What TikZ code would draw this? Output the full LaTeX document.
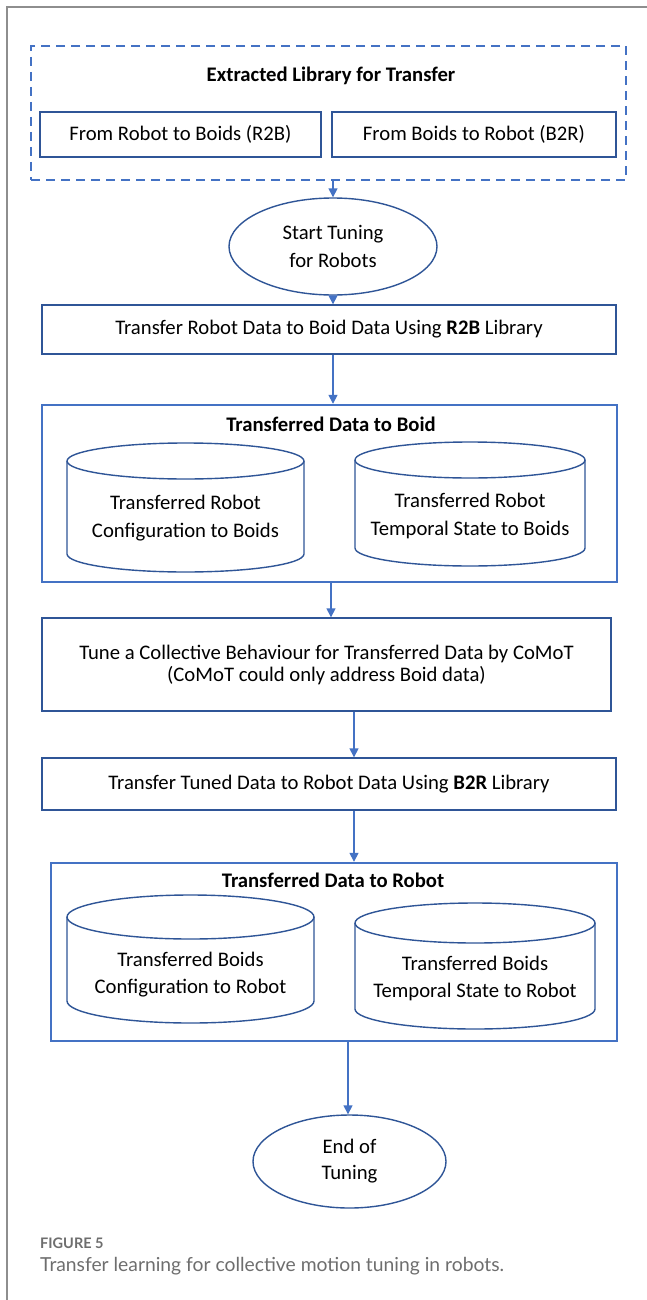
\documentclass[tikz,border=0pt]{standalone}
\usepackage{fontspec}
\setmainfont{Carlito}
\newfontfamily\capfont{Lato}
\usetikzlibrary{arrows.meta,shapes.geometric}
\definecolor{dblue}{HTML}{2F5597}
\definecolor{mblue}{HTML}{4472C4}
\definecolor{framegray}{HTML}{8E8E8E}
\definecolor{capgray}{HTML}{6E6E6E}
\newcommand\drawcyl[5]{%
  \draw[cylline] ({(#1+#2)/2},{#3+#5}) ellipse [x radius={(#2-#1)/2}, y radius=#5];
  \draw[cylline] (#1,{#3+#5}) -- (#1,{#4-#5})
     arc[start angle=180,end angle=0,x radius={(#2-#1)/2},y radius=#5] -- (#2,{#3+#5});}
\begin{document}
\begin{tikzpicture}[x=1pt,y=-1pt,
  txt/.style={font=\fontsize{20.7}{24}\selectfont,align=center,inner sep=0pt},
  thinbox/.style={draw=dblue,line width=1.4pt,txt},
  bigbox/.style={draw=mblue,line width=2.4pt},
  libbox/.style={draw=mblue,line width=1.5pt,dash pattern=on 9pt off 6pt},
  oval/.style={ellipse,draw=dblue,line width=1.4pt,txt},
  cylline/.style={draw=dblue,line width=1.4pt},
  boldtitle/.style={font=\fontsize{20.7}{24}\selectfont\bfseries,inner sep=0pt},
  arr/.style={draw=mblue,line width=1.5pt,-{Triangle[width=9pt,length=9pt]}}]
\useasboundingbox[fill=white] (0,0) rectangle (647,1300);
% page frame
\draw[framegray,line width=1.6pt] (7,1300) -- (7,7) -- (647,7);

% library
\node[libbox,minimum width=595pt,minimum height=134pt] (lib) at (328.5,113) {};
\node[boldtitle] (libt) at (331,76) {Extracted Library for Transfer};
\node[thinbox,minimum width=281pt,minimum height=45pt] (r2b) at (180.5,134.5) {From Robot to Boids (R2B)};
\node[thinbox,minimum width=284pt,minimum height=45pt] (b2r) at (474,134.5) {From Boids to Robot (B2R)};

% start
\node[oval,minimum width=208pt,minimum height=97pt,font=\fontsize{20.7}{28}\selectfont] (start) at (333,246.5) {Start Tuning\\for Robots};

% step1
\node[thinbox,minimum width=574pt,minimum height=49pt] (s1) at (329,329.5) {Transfer Robot Data to Boid Data Using \textbf{R2B} Library};

% boid box
\node[bigbox,minimum width=575pt,minimum height=177pt] (boid) at (329.5,493.5) {};
\node[boldtitle] (boidt) at (331,424) {Transferred Data to Boid};
\drawcyl{67}{304}{443}{572}{18}
\drawcyl{355}{585}{442}{566}{18}
\node[txt,font=\fontsize{20.7}{28}\selectfont] (c1) at (185.5,518) {Transferred Robot\\Configuration to Boids};
\node[txt,font=\fontsize{20.7}{28}\selectfont] (c2) at (470,516) {Transferred Robot\\Temporal State to Boids};

% tune
\node[thinbox,minimum width=569pt,minimum height=93pt,font=\fontsize{20.7}{22}\selectfont] (tune) at (326.5,664.5) {Tune a Collective Behaviour for Transferred Data by CoMoT\\(CoMoT could only address Boid data)};

% step3
\node[thinbox,minimum width=574pt,minimum height=52pt] (s3) at (329,784) {Transfer Tuned Data to Robot Data Using \textbf{B2R} Library};

% robot box
\node[bigbox,minimum width=566pt,minimum height=178pt] (robot) at (334,952) {};
\node[boldtitle] (robott) at (333,880) {Transferred Data to Robot};
\drawcyl{67}{314}{895}{1023}{22}
\drawcyl{355}{595}{903}{1029}{20}
\node[txt,font=\fontsize{20.7}{27}\selectfont] (c3) at (190.5,975) {Transferred Boids\\Configuration to Robot};
\node[txt,font=\fontsize{20.7}{27}\selectfont] (c4) at (475,978) {Transferred Boids\\Temporal State to Robot};

% end
\node[oval,minimum width=193pt,minimum height=93pt,font=\fontsize{20.7}{26}\selectfont] (end) at (349.5,1161.5) {End of\\Tuning};

% connector x positions
\coordinate (x1) at (333,0);
\coordinate (x2) at (331,0);
\coordinate (x3) at (354,0);
\coordinate (x4) at (348,0);

\draw[arr] (lib.south -| x1) -- (start.north -| x1);
\draw[arr] (start.south -| x1) -- (s1.north -| x1);
\draw[arr] (s1.south -| x1) -- (boid.north -| x1);
\draw[arr] (boid.south -| x2) -- (tune.north -| x2);
\draw[arr] (tune.south -| x3) -- (s3.north -| x3);
\draw[arr] (s3.south -| x3) -- (robot.north -| x3);
\draw[arr] (robot.south -| x4) -- (end.north -| x4);

% caption
\node[anchor=west,inner sep=0pt,text=capgray,font=\capfont\fontsize{14.5}{16}\selectfont\bfseries] (fig) at (40,1243) {FIGURE 5};
\node[anchor=west,inner sep=0pt,text=capgray,font=\capfont\fontsize{19.3}{22}\selectfont] (cap) at (40,1266) {Transfer learning for collective motion tuning in robots.};
\end{tikzpicture}
\end{document}
